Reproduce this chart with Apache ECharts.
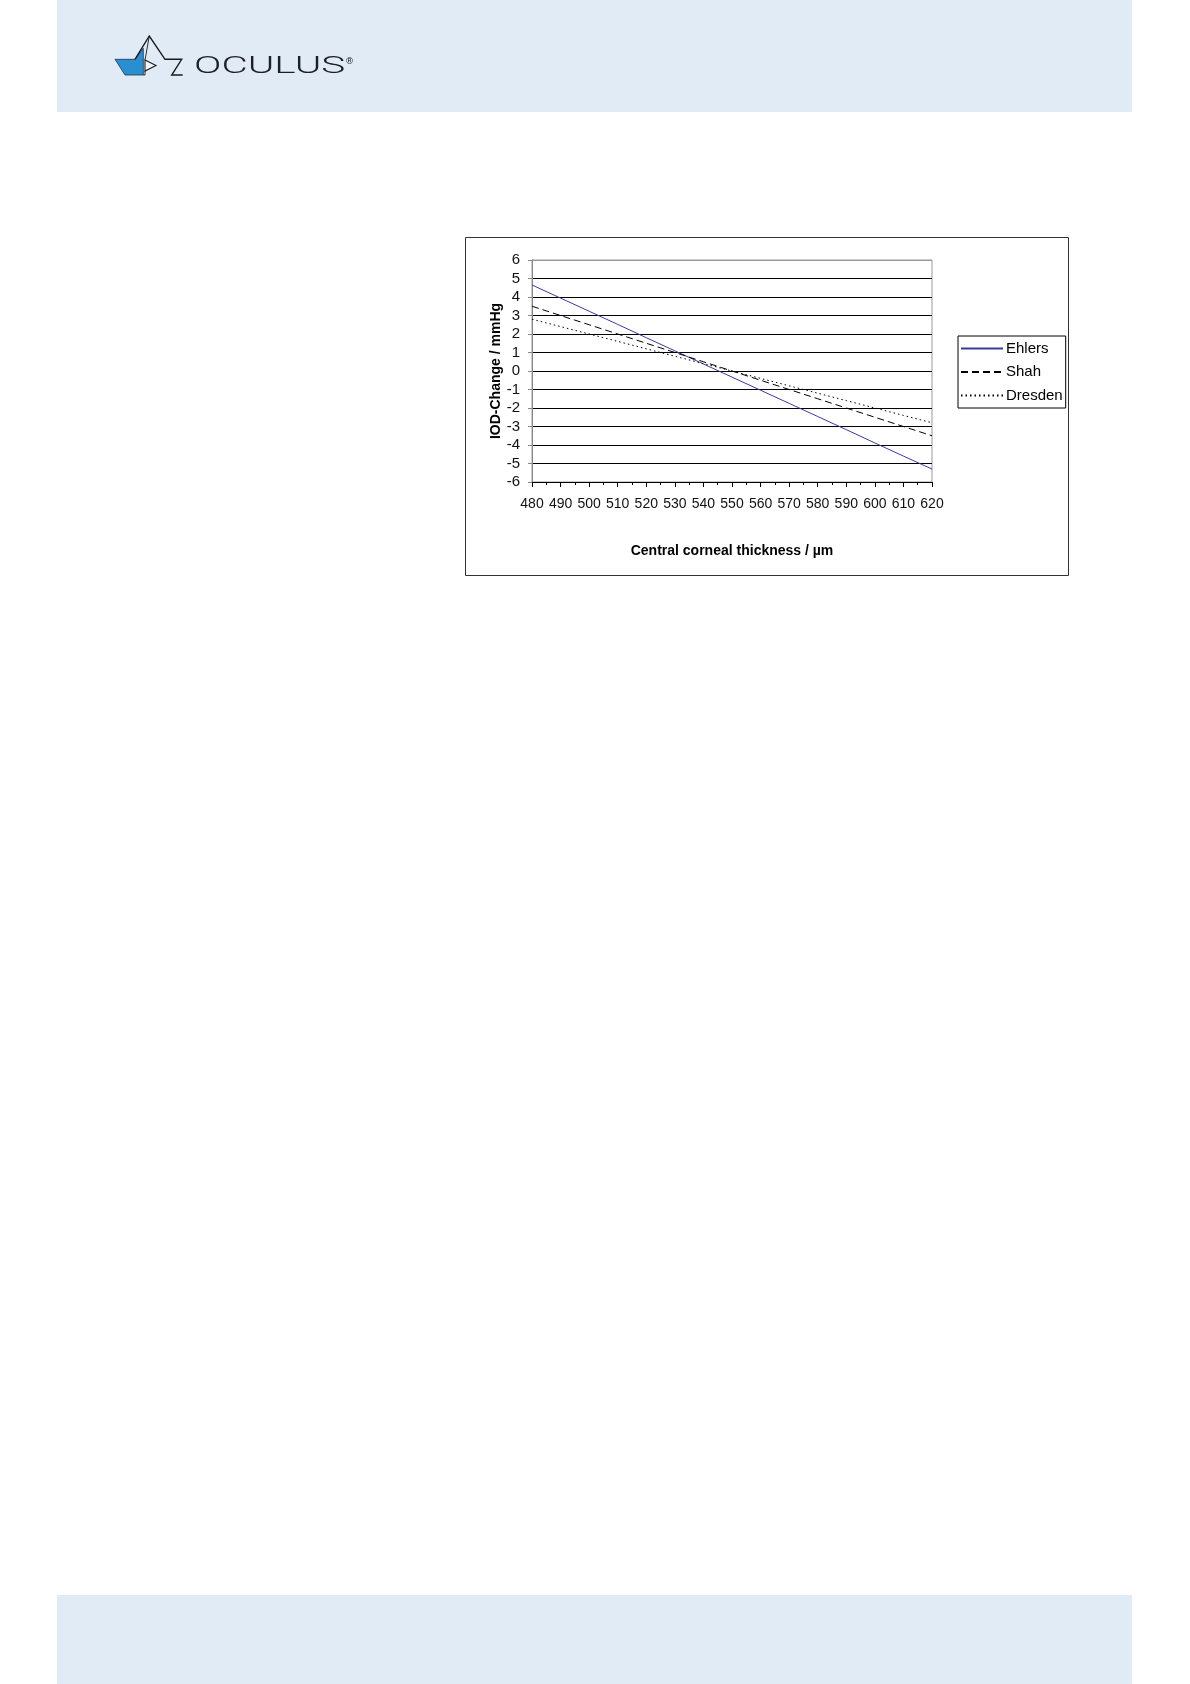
<!DOCTYPE html>
<html>
<head>
<meta charset="utf-8">
<script src="https://cdn.jsdelivr.net/npm/echarts@6/dist/echarts.min.js"></script>
<style>
html,body{margin:0;padding:0;background:#fff;}
#c{width:1190px;height:1684px;}
</style>
</head>
<body>
<div id="c"></div>
<script>
const thickness = [480,490,500,510,520,530,540,550,560,570,580,590,600,610,620];
const ehlers  = [4.65,3.94,3.23,2.52,1.80,1.09,0.38,-0.33,-1.04,-1.75,-2.46,-3.17,-3.89,-4.60,-5.30];
const shah    = [3.5,3.0,2.5,2.0,1.5,1.0,0.5,0.0,-0.5,-1.0,-1.5,-2.0,-2.5,-3.0,-3.5];
const dresden = [2.8,2.4,2.0,1.6,1.2,0.8,0.4,0.0,-0.4,-0.8,-1.2,-1.6,-2.0,-2.4,-2.8];
const seriesNames = ['Ehlers','Shah','Dresden'];
const xTitle = 'Central corneal thickness / µm';
const yTitle = 'IOD-Change / mmHg';

const pair = (arr) => thickness.map((x,i)=>[x, arr[i]]);
const labelFont = '"Liberation Sans", Arial, sans-serif';
const band = '#e0ebf6';

const chart = echarts.init(document.getElementById('c'), null, {renderer:'canvas'});
const gridColors = [];
for (let i=0;i<13;i++) gridColors.push(i===12 ? '#999999' : '#000000');

chart.setOption({
  backgroundColor:'#ffffff',
  animation:false,
  graphic:[
    {type:'rect', shape:{x:57,y:0,width:1075,height:112}, style:{fill:band}, z:0},
    {type:'rect', shape:{x:57,y:1595,width:1075,height:89}, style:{fill:band}, z:0},
    // logo icon
    {type:'polygon', shape:{points:[[115,59.3],[135,59.3],[143.3,48.3],[143.3,75],[125,75]]}, style:{fill:'#2a8fd0', stroke:'#1d3550', lineWidth:0.8}, z:1},
    {type:'polyline', shape:{points:[[135,59.3],[149.3,36],[165,59.3],[181.7,59.3],[171.7,75],[182.7,75]]}, style:{stroke:'#1a1a1a',lineWidth:1.4,fill:null}, z:2},
    {type:'polyline', shape:{points:[[149.3,36],[145,60]]}, style:{stroke:'#1a1a1a',lineWidth:0.9,fill:null}, z:2},
    {type:'polygon', shape:{points:[[145,60],[156,65.5],[145,71]]}, style:{stroke:'#1a1a1a',lineWidth:1.1,fill:'#f2f6fa'}, z:2},
    {type:'polyline', shape:{points:[[145,71],[145,75],[143.3,75]]}, style:{stroke:'#1a1a1a',lineWidth:0.9,fill:null}, z:2},
    {type:'text', x:194, y:67.5, scaleX:1.80, scaleY:1.04, style:{text:'OCULUS', fontSize:22.5, fontFamily:'Roboto', fontWeight:300, fill:'#1e1e28', verticalAlign:'middle', align:'left'}, z:2},
    {type:'text', x:345, y:57, style:{text:'®', fontSize:9, fontFamily:'DejaVu Sans', fill:'#1e1e28'}, z:2},
    // chart frame
    {type:'rect', shape:{x:465.5,y:237.5,width:603,height:338}, style:{fill:null, stroke:'#333333', lineWidth:1}, z:1}
  ],
  grid:{left:532, top:260, width:400, height:222, show:true, backgroundColor:'#ffffff', borderColor:'#999999', borderWidth:1},
  legend:{
    orient:'vertical', left:958, top:336,
    data:seriesNames,
    borderColor:'#000000', borderWidth:1, padding:[5,3,5,2],
    itemWidth:42, itemHeight:2, itemGap:8.5,
    itemStyle:{opacity:0},
    textStyle:{fontFamily:labelFont, fontSize:15, color:'#000', padding:[0,0,0,-2], lineHeight:15}
  },
  xAxis:{
    type:'value', min:480, max:620, interval:10,
    name:xTitle, nameLocation:'middle', nameGap:62,
    nameTextStyle:{fontFamily:labelFont, fontSize:14, fontWeight:'bold', color:'#000'},
    axisLine:{onZero:false, lineStyle:{color:'#000', width:1}},
    axisTick:{show:true, length:5, lineStyle:{color:'#000'}},
    minorTick:{show:true, splitNumber:2, length:3, lineStyle:{color:'#000'}},
    axisLabel:{margin:15, fontFamily:labelFont, fontSize:14, color:'#111'},
    splitLine:{show:false}
  },
  yAxis:{
    type:'value', min:-6, max:6, interval:1,
    name:yTitle, nameLocation:'middle', nameGap:29, nameRotate:90,
    nameTextStyle:{fontFamily:labelFont, fontSize:14, fontWeight:'bold', color:'#000'},
    axisLine:{show:true, lineStyle:{color:'#888', width:1}},
    axisTick:{show:true, length:4, lineStyle:{color:'#888'}},
    axisLabel:{margin:12, fontFamily:labelFont, fontSize:15, color:'#111'},
    splitLine:{show:true, lineStyle:{color:gridColors, width:1}}
  },
  series:[
    {name:seriesNames[0], type:'line', data:pair(ehlers), showSymbol:false, symbol:'none', lineStyle:{color:'#3b3b9c', width:1}, itemStyle:{color:'#3b3b9c'}},
    {name:seriesNames[1], type:'line', data:pair(shah), showSymbol:false, symbol:'none', lineStyle:{color:'#000', width:1, type:[7,4]}, itemStyle:{color:'#000'}},
    {name:seriesNames[2], type:'line', data:pair(dresden), showSymbol:false, symbol:'none', lineStyle:{color:'#000', width:1, type:[1.5,3]}, itemStyle:{color:'#000'}}
  ]
});
</script>
</body>
</html>
